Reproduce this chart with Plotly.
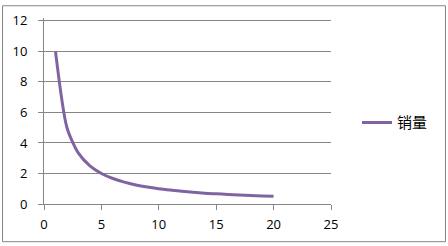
import plotly.graph_objects as go

x_vals = [1, 2, 3, 4, 5, 6, 7, 8, 9, 10, 11, 12, 13, 14, 15, 16, 17, 18, 19, 20]
sales = [10, 5, 3.33, 2.5, 2, 1.67, 1.43, 1.25, 1.11, 1, 0.91, 0.83, 0.77, 0.71, 0.67, 0.63, 0.59, 0.56, 0.53, 0.5]
series_name = "销量"

W, H = 448, 246
L, R, T, B = 44, 117, 14, 42
pw, ph = W - L - R, H - T - B

fig = go.Figure()
fig.add_trace(go.Scatter(
    x=x_vals, y=sales, mode="lines", name=series_name,
    line=dict(color="#8064A2", width=3, shape="spline", smoothing=0.7),
))

def px_x(p):
    return (p - L) / pw

def px_y(p):
    return (H - B - p) / ph

fig.add_shape(type="rect", xref="paper", yref="paper",
              x0=px_x(2.5), x1=px_x(445.5), y0=px_y(242.5), y1=px_y(1.5),
              line=dict(color="#868686", width=1), fillcolor="rgba(0,0,0,0)", layer="below")

fig.update_layout(
    width=W, height=H,
    margin=dict(l=L, r=R, t=T, b=B),
    paper_bgcolor="white", plot_bgcolor="white",
    font=dict(family="Open Sans, Noto Sans CJK SC", size=13, color="#000000"),
    showlegend=True,
    legend=dict(x=px_x(357), y=px_y(121), xanchor="left", yanchor="middle",
                font=dict(family="Noto Sans CJK SC", size=15, color="#000"),
                tracegroupgap=0, bgcolor="rgba(0,0,0,0)"),
    xaxis=dict(range=[0, 25], tickvals=[0, 5, 10, 15, 20, 25], showgrid=False,
               zeroline=False, showline=True, linecolor="#868686", linewidth=1,
               ticks="outside", ticklen=5, tickcolor="#868686", tickfont=dict(size=13),
               ticklabelstandoff=3),
    yaxis=dict(range=[0, 12.19], tickvals=[0, 2, 4, 6, 8, 10, 12], showgrid=True,
               gridcolor="#868686", gridwidth=1, zeroline=False, showline=True,
               linecolor="#868686", linewidth=1, ticks="outside", ticklen=5,
               tickcolor="#868686", tickfont=dict(size=13), ticklabelstandoff=8),
)

fig.write_html("out.html")
